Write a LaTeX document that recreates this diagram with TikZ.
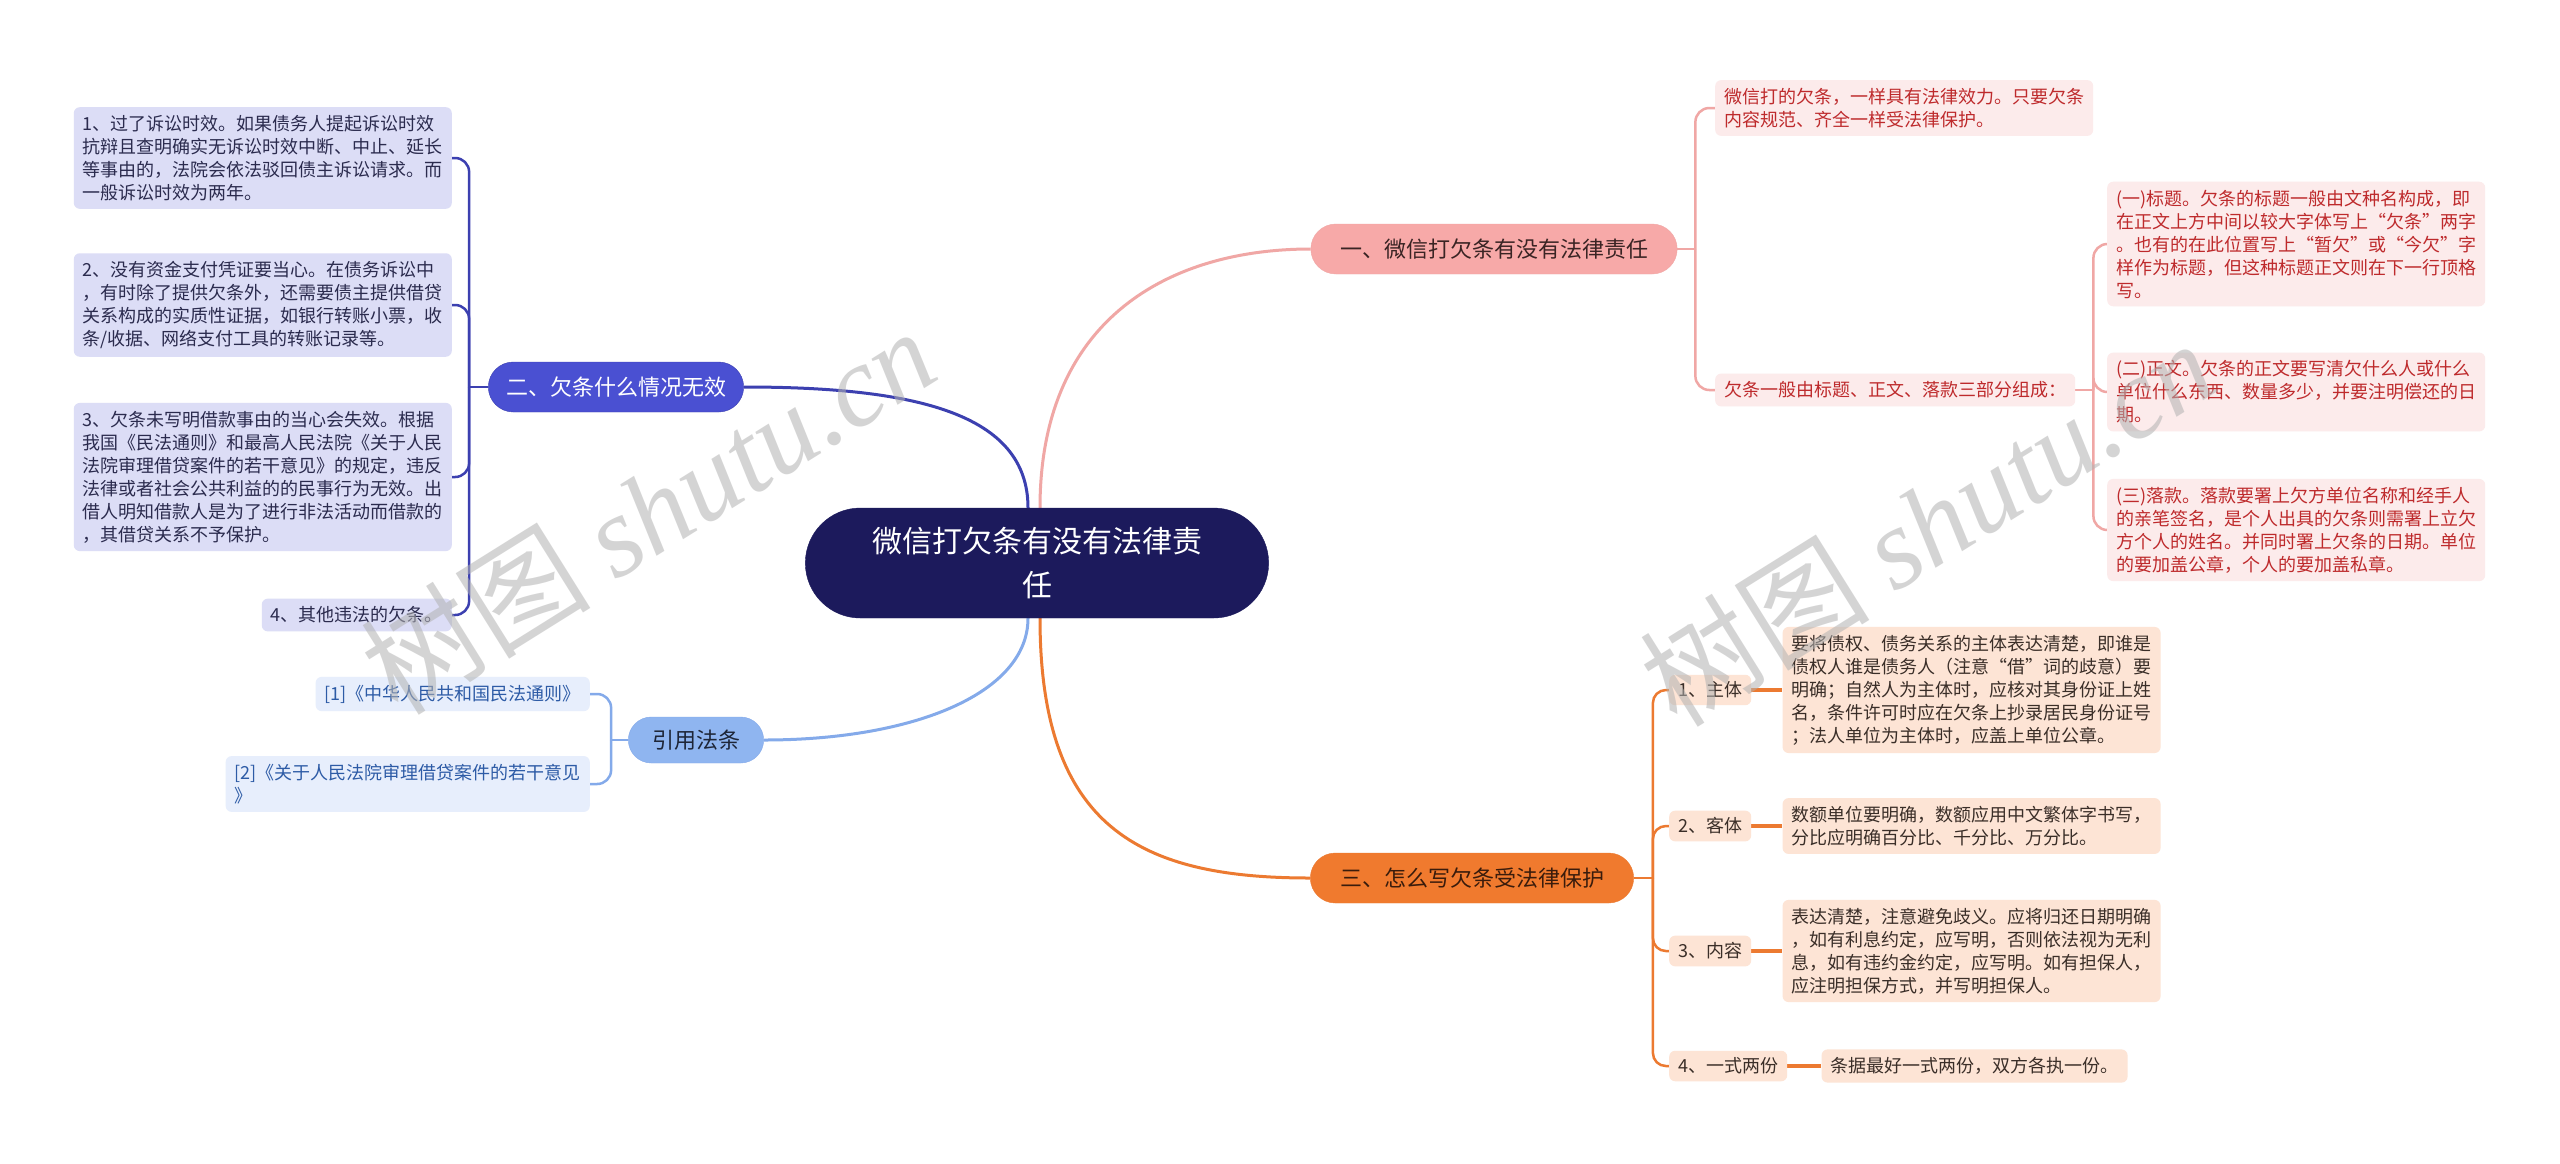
\documentclass[tikz,border=0pt]{standalone}
\usepackage{fontspec}
\setmainfont{Noto Sans CJK SC}
\newfontfamily\wmlatin{Liberation Serif}
\usetikzlibrary{shapes.misc, positioning, backgrounds, calc}
\definecolor{rootnavy}{HTML}{1C1A5C}
\definecolor{redline}{HTML}{F0A7A5}
\definecolor{redfill}{HTML}{F7A9A8}
\definecolor{redpale}{HTML}{FCEBEB}
\definecolor{redtitle}{HTML}{3A2424}
\definecolor{redtext}{HTML}{BE2A2C}
\definecolor{indigoline}{HTML}{3C40B0}
\definecolor{indigofill}{HTML}{4A50D2}
\definecolor{indigopale}{HTML}{DCDDF6}
\definecolor{indigotext}{HTML}{2B2B4E}
\definecolor{skyline}{HTML}{84AAEA}
\definecolor{skyfill}{HTML}{8FB5F0}
\definecolor{skypale}{HTML}{E7EEFC}
\definecolor{skytitle}{HTML}{1E2638}
\definecolor{skytext}{HTML}{2D5BA6}
\definecolor{orangeline}{HTML}{EC7A31}
\definecolor{orangefill}{HTML}{F07A2E}
\definecolor{orangepale}{HTML}{FDE4D5}
\definecolor{orangetitle}{HTML}{3A1C0C}
\definecolor{orangetext}{HTML}{3A2E28}
\newcommand{\setfs}[2]{\fontsize{#1}{#2}\selectfont}

\begin{document}
\begin{tikzpicture}[x=1pt, y=-1pt,
    % node styles
    root/.style={rounded rectangle, fill=rootnavy, draw=rootnavy, text=white, minimum width=470pt, minimum height=110pt, align=center, font=\setfs{30}{44}},
    topic/.style={rounded rectangle, minimum height=50pt, font=\setfs{22}{26}},
    note/.style={rectangle, rounded corners=6pt, inner xsep=9pt, inner ysep=8pt, align=left, font=\setfs{18}{23}},
    redtopic/.style={topic, fill=redfill, draw=redline, text=redtitle},
    rednote/.style={note, fill=redpale, text=redtext},
    bluetopic/.style={topic, fill=indigofill, draw=indigoline, text=white},
    bluenote/.style={note, fill=indigopale, text=indigotext},
    skytopic/.style={topic, fill=skyfill, draw=skyline, text=skytitle},
    skynote/.style={note, fill=skypale, text=skytext},
    orangetopic/.style={topic, fill=orangefill, draw=orangeline, text=orangetitle},
    orangenote/.style={note, fill=orangepale, text=orangetext},
    % line styles
    redlink/.style={draw=redline, line width=2.5pt, rounded corners=14pt},
    bluelink/.style={draw=indigoline, line width=2.5pt, rounded corners=14pt},
    skylink/.style={draw=skyline, line width=2.5pt, rounded corners=14pt},
    orangelink/.style={draw=orangeline, line width=2.5pt, rounded corners=13pt},
    wmark/.style={text=black!30, opacity=0.55, font=\setfs{115}{120}, rotate=32},
]
\useasboundingbox (0,0) rectangle (2560,1163);

% ============================================================================
% ROOT
% ============================================================================
\node[root] (root) at (1037,563) {微信打欠条有没有法律责\\任};

% ============================================================================
% 一 : legal effect (right, top)
% ============================================================================
\node[redtopic, minimum width=373pt] (liability) at (1494,249) {一、微信打欠条有没有法律责任};
\node[rednote, anchor=west] (effect) at (1715,108) {微信打的欠条，一样具有法律效力。只要欠条\\内容规范、齐全一样受法律保护。};
\node[rednote, anchor=west] (parts) at (1715,390) {欠条一般由标题、正文、落款三部分组成：};
\node[rednote, anchor=west] (title) at (2107,244) {(一)标题。欠条的标题一般由文种名构成，即\\在正文上方中间以较大字体写上“欠条”两字\\。也有的在此位置写上“暂欠”或“今欠”字\\样作为标题，但这种标题正文则在下一行顶格\\写。};
\node[rednote, anchor=west] (body) at (2107,392) {(二)正文。欠条的正文要写清欠什么人或什么\\单位什么东西、数量多少，并要注明偿还的日\\期。};
\node[rednote, anchor=west] (sign) at (2107,530) {(三)落款。落款要署上欠方单位名称和经手人\\的亲笔签名，是个人出具的欠条则需署上立欠\\方个人的姓名。并同时署上欠条的日期。单位\\的要加盖公章，个人的要加盖私章。};

% ============================================================================
% 二 : invalid cases (left, top)
% ============================================================================
\node[bluetopic, minimum width=262pt] (invalid) at (616,387) {二、欠条什么情况无效};
\node[bluenote, anchor=east] (inv1) at (452,158) {1、过了诉讼时效。如果债务人提起诉讼时效\\抗辩且查明确实无诉讼时效中断、中止、延长\\等事由的，法院会依法驳回债主诉讼请求。而\\一般诉讼时效为两年。};
\node[bluenote, anchor=east] (inv2) at (452,305) {2、没有资金支付凭证要当心。在债务诉讼中\\，有时除了提供欠条外，还需要债主提供借贷\\关系构成的实质性证据，如银行转账小票，收\\条/收据、网络支付工具的转账记录等。};
\node[bluenote, anchor=east] (inv3) at (452,477) {3、欠条未写明借款事由的当心会失效。根据\\我国《民法通则》和最高人民法院《关于人民\\法院审理借贷案件的若干意见》的规定，违反\\法律或者社会公共利益的的民事行为无效。出\\借人明知借款人是为了进行非法活动而借款的\\，其借贷关系不予保护。};
\node[bluenote, anchor=east] (inv4) at (452,615) {4、其他违法的欠条。};

% ============================================================================
% 引用法条 (left, bottom)
% ============================================================================
\node[skytopic, minimum width=142pt, minimum height=46pt] (cite) at (696,740) {引用法条};
\node[skynote, anchor=east] (cite1) at (590,694) {[1]《中华人民共和国民法通则》};
\node[skynote, anchor=east] (cite2) at (590,784) {[2]《关于人民法院审理借贷案件的若干意见\\》};

% ============================================================================
% 三 : how to write (right, bottom)
% ============================================================================
\node[orangetopic, minimum width=330pt] (protect) at (1472,878) {三、怎么写欠条受法律保护};
\node[orangenote, anchor=west, inner ysep=7pt] (subj) at (1669,690) {1、主体};
\node[orangenote, anchor=west, inner ysep=7pt] (obj) at (1669,826) {2、客体};
\node[orangenote, anchor=west, inner ysep=7pt] (cont) at (1669,951) {3、内容};
\node[orangenote, anchor=west, inner ysep=7pt] (copies) at (1669,1066) {4、一式两份};
\node[orangenote, right=31pt of subj] (subjtxt) {要将债权、债务关系的主体表达清楚，即谁是\\债权人谁是债务人（注意“借”词的歧意）要\\明确；自然人为主体时，应核对其身份证上姓\\名，条件许可时应在欠条上抄录居民身份证号\\；法人单位为主体时，应盖上单位公章。};
\node[orangenote, right=31pt of obj] (objtxt) {数额单位要明确，数额应用中文繁体字书写，\\分比应明确百分比、千分比、万分比。};
\node[orangenote, right=31pt of cont] (conttxt) {表达清楚，注意避免歧义。应将归还日期明确\\，如有利息约定，应写明，否则依法视为无利\\息，如有违约金约定，应写明。如有担保人，\\应注明担保方式，并写明担保人。};
\node[orangenote, right=34pt of copies] (copiestxt) {条据最好一式两份，双方各执一份。};

% ============================================================================
% CONNECTORS
% ============================================================================
\coordinate (liabilitybus) at ([xshift=18pt]liability.east);
\coordinate (partsbus) at ([xshift=18pt]parts.east);
\coordinate (invalidbus) at ([xshift=-19pt]invalid.west);
\coordinate (citebus) at ([xshift=-17pt]cite.west);
\coordinate (protectbus) at ([xshift=19pt]protect.east);

\begin{scope}[on background layer]
    \fill[white] (0,0) rectangle (2560,1163);
    % root to topics
    \draw[redlink, line width=3pt] ([xshift=3pt]root.north) .. controls +(0,-190) and +(-140,0) .. (liability.west);
    \draw[bluelink, line width=3pt] ([xshift=-9pt]root.north) .. controls +(0,-95) and +(170,0) .. (invalid.east);
    \draw[skylink, line width=3pt] ([xshift=-9pt]root.south) .. controls +(0,75) and +(150,0) .. (cite.east);
    \draw[orangelink, line width=3pt] ([xshift=3pt]root.south) .. controls +(0,210) and +(-170,0) .. (protect.west);

    % 一
    \draw[redlink] (liability.east) -- (liabilitybus);
    \draw[redlink] (liabilitybus) |- (effect.west);
    \draw[redlink] (liabilitybus) |- (parts.west);
    \draw[redlink] (parts.east) -- (partsbus);
    \draw[redlink] (partsbus) |- (title.west);
    \draw[redlink] (partsbus) |- (body.west);
    \draw[redlink] (partsbus) |- (sign.west);

    % 二
    \draw[bluelink] (invalid.west) -- (invalidbus);
    \foreach \leaf in {inv1, inv2, inv3, inv4}
        \draw[bluelink] (invalidbus) |- (\leaf.east);

    % 引用法条
    \draw[skylink] (cite.west) -- (citebus);
    \draw[skylink] (citebus) |- (cite1.east);
    \draw[skylink] (citebus) |- (cite2.east);

    % 三
    \draw[orangelink] (protect.east) -- (protectbus);
    \foreach \leaf in {subj, obj, cont, copies}
        \draw[orangelink] (protectbus) |- (\leaf.west);
    \draw[orangelink, line width=4pt] (subj) -- (subjtxt);
    \draw[orangelink, line width=4pt] (obj) -- (objtxt);
    \draw[orangelink, line width=4pt] (cont) -- (conttxt);
    \draw[orangelink, line width=4pt] (copies) -- (copiestxt);
\end{scope}

% ============================================================================
% WATERMARKS
% ============================================================================
\node[wmark] (wmleft) at (648,510) {树图 {\wmlatin\itshape shutu.cn}};
\node[wmark] (wmright) at (1927,522) {树图 {\wmlatin\itshape shutu.cn}};

\end{tikzpicture}
\end{document}
